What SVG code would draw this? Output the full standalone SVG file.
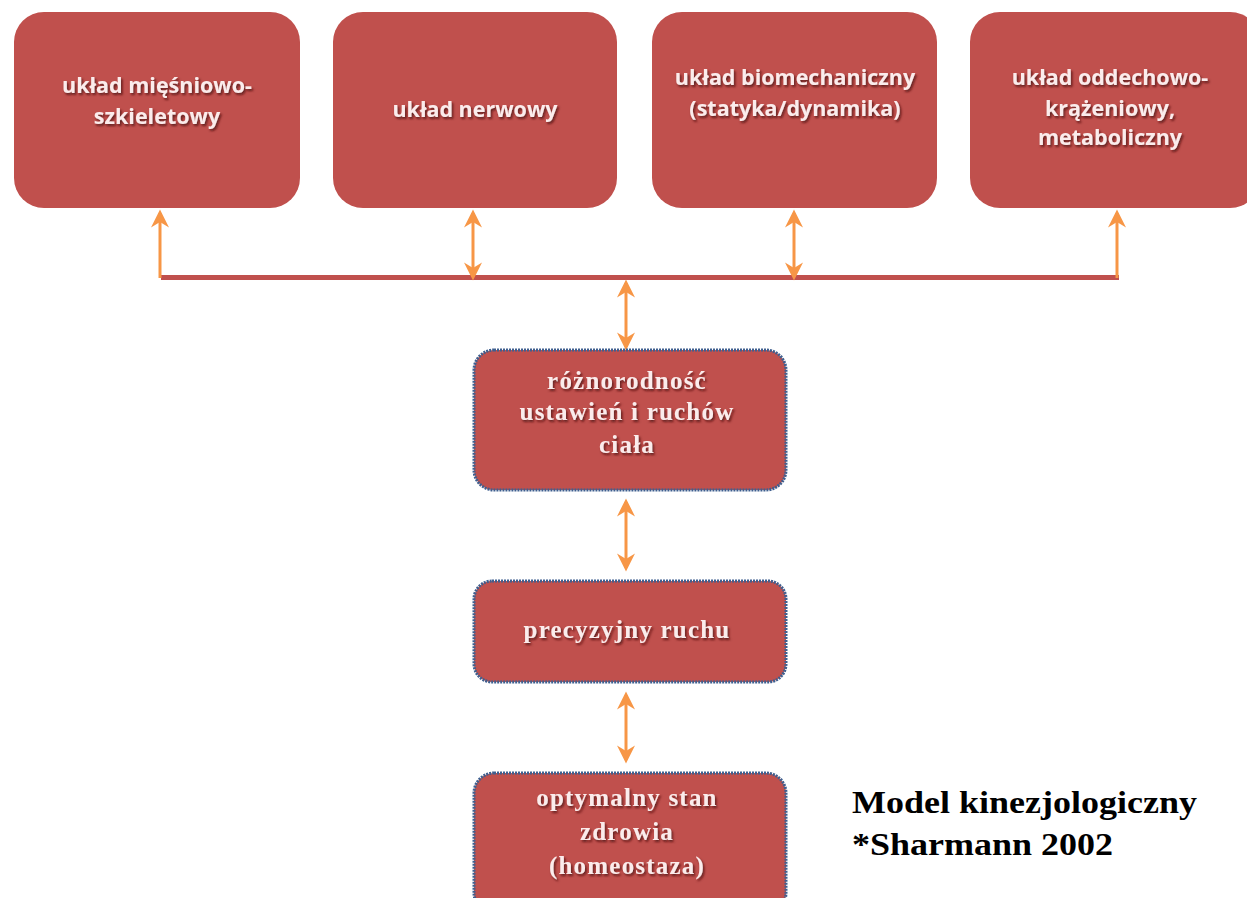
<svg xmlns="http://www.w3.org/2000/svg" width="1247" height="898" viewBox="0 0 1247 898">
<style>
.top{fill:#c0504d;}
.mid{fill:#c0504d;stroke:#3f5f8f;stroke-width:3;stroke-dasharray:2 1;}
.ts{font-family:"Open Sans","Liberation Sans",sans-serif;font-weight:bold;font-size:21.5px;fill:#fbecec;text-anchor:middle;filter:url(#sh);}
.tr{font-family:"Liberation Serif",serif;font-weight:bold;font-size:25px;fill:#fbecec;text-anchor:middle;letter-spacing:1.2px;filter:url(#sh);}
.ar{stroke:#f79646;stroke-width:3;fill:none;}
.lbl{font-family:"Liberation Serif",serif;font-weight:bold;font-size:31px;fill:#000;}
</style>
<defs>
<filter id="sh" x="-10%" y="-30%" width="130%" height="160%">
<feDropShadow dx="1.5" dy="2" stdDeviation="1" flood-color="#4a1010" flood-opacity="0.8"/>
</filter>
<marker id="ah" viewBox="0 0 10 10" refX="8" refY="5" markerWidth="6.5" markerHeight="6" orient="auto-start-reverse" markerUnits="strokeWidth">
<path d="M0,0 L10,5 L0,10 L3,5 z" fill="#f79646"/>
</marker>
</defs>
<rect width="1247" height="898" fill="#ffffff"/>
<g id="connectors">
<rect x="161" y="275" width="958" height="5" fill="#c0504d"/>
<line class="ar" x1="160" y1="278" x2="160" y2="213" marker-end="url(#ah)"/>
<line class="ar" x1="473" y1="213" x2="473" y2="277" marker-start="url(#ah)" marker-end="url(#ah)"/>
<line class="ar" x1="794" y1="213" x2="794" y2="277" marker-start="url(#ah)" marker-end="url(#ah)"/>
<line class="ar" x1="1117" y1="278" x2="1117" y2="213" marker-end="url(#ah)"/>
<line class="ar" x1="626" y1="283" x2="626" y2="347" marker-start="url(#ah)" marker-end="url(#ah)"/>
<line class="ar" x1="626" y1="502" x2="626" y2="568" marker-start="url(#ah)" marker-end="url(#ah)"/>
<line class="ar" x1="626" y1="695" x2="626" y2="760" marker-start="url(#ah)" marker-end="url(#ah)"/>
</g>
<g id="n1">
<rect class="top" x="14" y="12" width="286" height="196" rx="30"/>
<text class="ts" x="157" y="93">układ mięśniowo-</text>
<text class="ts" x="157" y="124">szkieletowy</text>
</g>
<g id="n2">
<rect class="top" x="333" y="12" width="284" height="196" rx="30"/>
<text class="ts" x="475" y="117">układ nerwowy</text>
</g>
<g id="n3">
<rect class="top" x="652" y="12" width="285" height="196" rx="30"/>
<text class="ts" x="795" y="85">układ biomechaniczny</text>
<text class="ts" x="795" y="116">(statyka/dynamika)</text>
</g>
<g id="n4">
<rect class="top" x="970" y="12" width="290" height="196" rx="30"/>
<text class="ts" x="1110" y="85">układ oddechowo-</text>
<text class="ts" x="1110" y="116">krążeniowy,</text>
<text class="ts" x="1110" y="145">metaboliczny</text>
</g>
<g id="n5">
<rect class="mid" x="474" y="350" width="312" height="140" rx="20"/>
<text class="tr" x="627" y="389">różnorodność</text>
<text class="tr" x="627" y="420">ustawień i ruchów</text>
<text class="tr" x="627" y="453">ciała</text>
</g>
<g id="n6">
<rect class="mid" x="474" y="581" width="312" height="101" rx="18"/>
<text class="tr" x="627" y="638">precyzyjny ruchu</text>
</g>
<g id="n7">
<rect class="mid" x="474" y="773" width="312" height="140" rx="20"/>
<text class="tr" x="627" y="806">optymalny stan</text>
<text class="tr" x="627" y="840">zdrowia</text>
<text class="tr" x="627" y="874">(homeostaza)</text>
</g>
<g id="caption">
<text class="lbl" x="852" y="813" textLength="345" lengthAdjust="spacingAndGlyphs">Model kinezjologiczny</text>
<text class="lbl" x="852" y="855" textLength="261" lengthAdjust="spacingAndGlyphs">*Sharmann 2002</text>
</g>
</svg>
